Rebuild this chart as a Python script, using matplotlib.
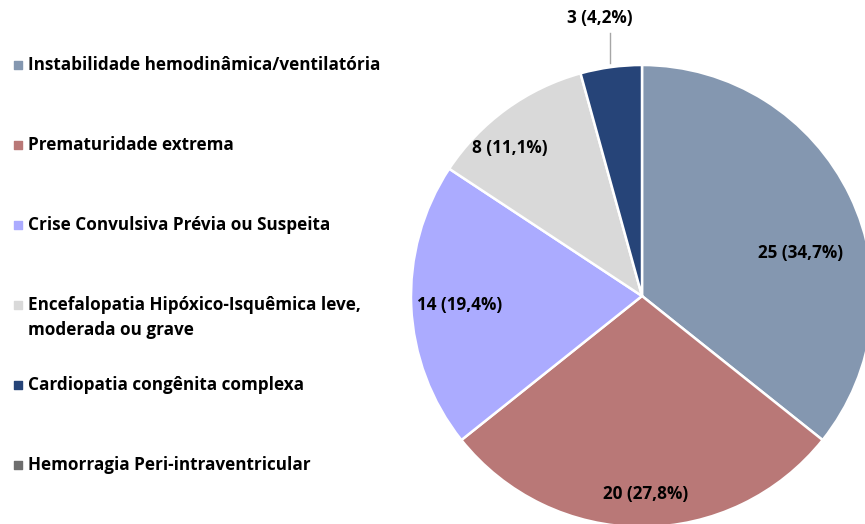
import numpy as np
import matplotlib
matplotlib.use('Agg')
import matplotlib.pyplot as plt

# ---------------------------------------------------------------------------
# Data
# ---------------------------------------------------------------------------
categorias = ['Instabilidade hemodinâmica/ventilatória',
              'Prematuridade extrema',
              'Crise Convulsiva Prévia ou Suspeita',
              'Encefalopatia Hipóxico-Isquêmica leve,\nmoderada ou grave',
              'Cardiopatia congênita complexa',
              'Hemorragia Peri-intraventricular']
casos = [25, 20, 14, 8, 3, 0]
total_pacientes = 72          # denominador usado nos percentuais

cores = ['#8497B0', '#B97877', '#ABABFF', '#D9D9D9', '#264478', '#6E6E6E']

# label placement: (fraction of radius, angle in degrees)
pos_rotulos = [(0.71, 15.2), (0.857, -89.0), (0.79, 182.8),
               (0.858, 131.7), (1.217, 98.6)]

W, H = 865, 524
FS = 12.3
plt.rcParams['font.family'] = ['Open Sans', 'DejaVu Sans']

fig = plt.figure(figsize=(W / 100, H / 100), dpi=100)
ax = fig.add_axes([0, 0, 1, 1])

# ---- pie (only non-zero slices) ----
centro = (642, H - 296)
raio = 231
vals = [v for v in casos if v > 0]
cols = [c for v, c in zip(casos, cores) if v > 0]
wedges, _ = ax.pie(vals, colors=cols, startangle=90, counterclock=False,
                   center=centro, radius=raio, frame=True,
                   wedgeprops=dict(edgecolor='white', linewidth=1.8))
ax.set_xlim(0, W)
ax.set_ylim(0, H)
ax.set_aspect('equal')
ax.axis('off')

for i, v in enumerate(vals):
    frac, ang = pos_rotulos[i]
    pct = 100 * v / total_pacientes
    txt = f"{v} ({pct:.1f}%)".replace('.', ',')
    x = centro[0] + frac * raio * np.cos(np.radians(ang))
    y = centro[1] + frac * raio * np.sin(np.radians(ang))
    ax.text(x, y, txt, ha='center', va='center', fontsize=FS,
            fontweight='bold', color='black')
    if frac > 1:
        # leader line from label down to the slice edge
        ax.plot([x + 10, x + 10], [y - 15, y - 45], color='#A6A6A6',
                linewidth=1.0)

# ---- legend drawn by hand ----
leg_y = [65, 145, 225, 305, 385, 465]
for nome, cor, yy in zip(categorias, cores, leg_y):
    ax.scatter([17.5], [H - yy], marker='s', s=40, color=cor, clip_on=False)
    if '\n' in nome:
        ax.text(28, H - yy - 12.5, nome, ha='left', va='center', fontsize=FS,
                fontweight='bold', color='black', linespacing=1.5)
    else:
        ax.text(28, H - yy, nome, ha='left', va='center', fontsize=FS,
                fontweight='bold', color='black')

fig.savefig('out.png', dpi=100)
